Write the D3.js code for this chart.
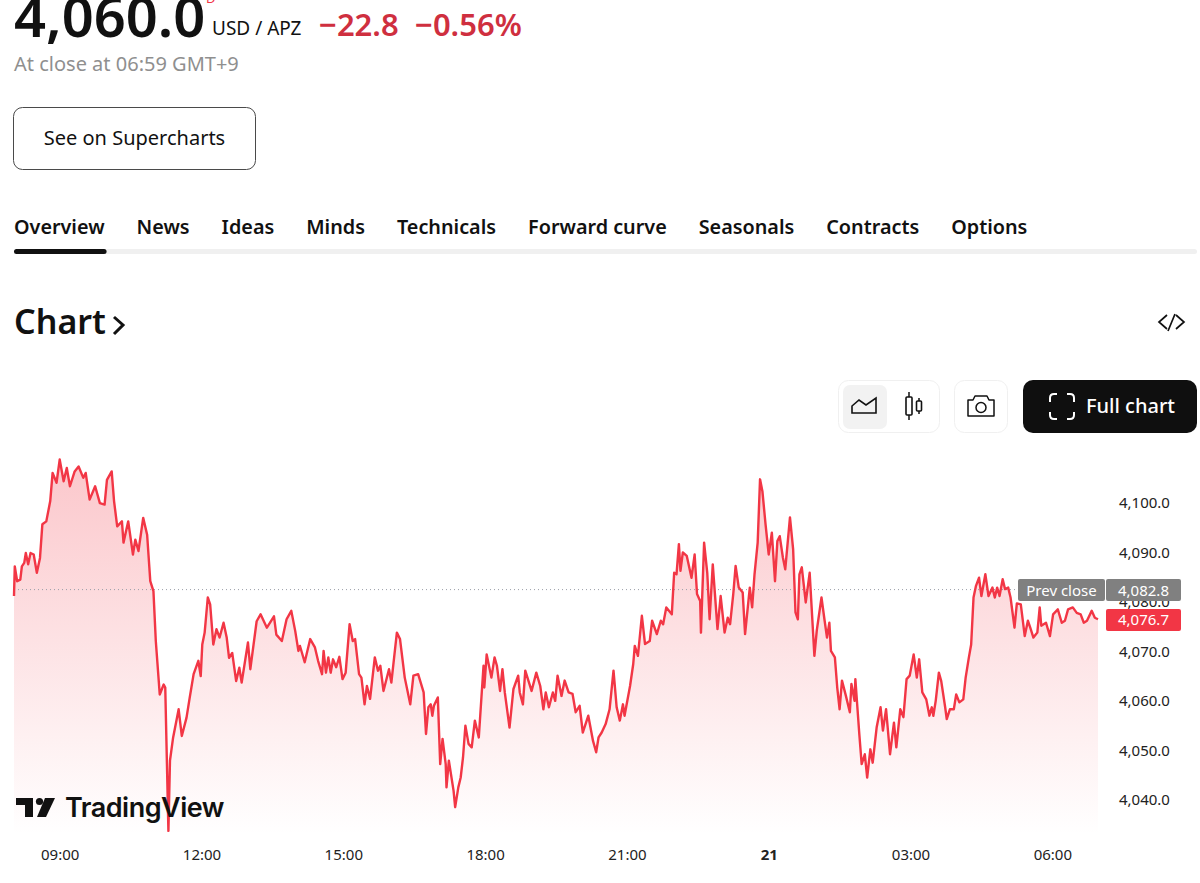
<!DOCTYPE html>
<html>
<head>
<meta charset="utf-8">
<script src="https://cdn.jsdelivr.net/npm/d3@7"></script>
<style>
  html, body { margin: 0; padding: 0; background: #fff; overflow: hidden; }
  svg { display: block; font-family: "Noto Sans", sans-serif; }
  .axis text { font-size: 15px; fill: #222; font-family: "Noto Sans", sans-serif; }
  .axis path, .axis line { display: none; }
</style>
</head>
<body>
<div id="chart"></div>
<script>
// Minutes since the session start (08:02) and the price read at each of them
const minutes = [
  0,1,4,8,10,13,15,18,21,25,29,33,36,41,46,49,54,58,63,67,71,77,82,88,91,96,103,109,115,118,
  124,127,131,137,139,145,151,154,158,164,169,173,177,180,185,190,192,196,198,202,209,213,219,223,228,234,237,239,242,246,
  249,253,257,261,266,270,273,277,282,286,289,297,300,308,313,321,330,333,340,346,352,357,361,
  363,369,376,382,386,391,393,396,399,402,405,409,413,417,421,426,430,433,438,441,445,448,452,458,462,465,469,476,479,486,
  490,496,503,507,513,520,523,526,529,531,533,538,541,544,548,549,552,558,560,564,567,570,573,577,581,585,590,596,597,600,
  606,610,613,617,620,623,629,634,640,642,646,649,657,663,668,672,675,679,684,687,690,695,699,704,709,713,718,722,729,735,
  739,742,746,751,756,761,765,769,773,775,782,786,788,792,
  797,801,807,810,816,821,824,828,835,838,841,844,846,849,854,860,864,867,871,872,876,880,883,887,893,897,902,906,909,913,
  916,920,925,928,934,937,940,944,947,950,954,958,962,966,969,972,976,979,985,989,992,995,997,1000,1005,1010,1016,1019,1025,1029,
  1032,1035,1037,1042,1045,1048,1051,1056,1061,1063,1067,1068,1073,1076,1080,1083,1087,1090,1095,1100,1103,1107,1112,1117,1120,1125,1129,1133,1137,1142,1146,1149,
  1153,1158,1162,1165,1167,1170,1174,1177,1182,1184,1188,1193,1196,1200,1205,1208,1212,1215,1218,1221,1225,1228,1233,1237,1242,1245,1248,1251,1255,1258,
  1262,1265,1270,1273,1278,1283,1287,1290,1294,1299,1302,1304,1310,1315,1319,1325,1330,1334,1338,1344,1349,1354,1358,1362,1368,1372,1376
];
const prices = [
  4081.4,4087.4,4084.4,4084.7,4087.4,4088.1,4090.1,4087.8,4090.1,4089.8,4086.1,4089.1,4095.9,4096.5,4100.6,4106.3,4104.3,4109.0,4104.6,4107.3,4103.6,4106.6,4107.6,4105.3,4106.3,4100.9,4103.6,4100.2,4099.9,4104.9,
  4106.6,4100.6,4095.5,4096.5,4092.2,4096.5,4089.8,4092.8,4090.5,4097.2,4093.8,4084.4,4082.4,4072.3,4061.5,4063.5,4062.9,4033.9,4048.1,4052.8,4058.5,4053.1,4056.8,4060.8,4065.6,4068.3,4065.2,4071.6,4074.0,4081.1,
  4079.7,4071.6,4074.7,4073.0,4076.0,4073.0,4068.9,4069.9,4064.2,4066.9,4063.9,4072.0,4066.6,4076.3,4077.7,4075.0,4077.3,4073.6,4072.3,4076.7,4078.4,4074.3,4070.3,
  4071.3,4068.0,4072.7,4071.0,4068.3,4065.6,4070.3,4065.9,4069.0,4065.9,4068.6,4067.0,4069.1,4064.6,4065.9,4075.7,4072.3,4072.7,4065.6,4064.9,4059.5,4063.2,4060.6,4069.0,4066.3,4067.3,4062.2,4066.6,4063.9,4074.0,
  4072.7,4064.9,4059.5,4065.3,4065.6,4061.9,4053.5,4058.9,4059.5,4057.2,4059.2,4060.9,4047.4,4052.5,4047.4,4042.7,4048.1,4042.0,4038.7,4042.7,4044.7,4048.8,4055.2,4051.5,4050.8,4056.2,4052.8,4067.3,4062.9,4069.6,
  4064.9,4069.0,4067.3,4062.2,4066.6,4061.9,4054.8,4062.6,4065.3,4061.9,4059.5,4066.3,4062.2,4065.9,4063.2,4058.5,4061.9,4058.9,4061.9,4060.2,4065.3,4061.2,4064.3,4061.9,4061.6,4057.9,4059.2,4053.8,4057.2,4052.1,
  4049.8,4052.8,4053.8,4055.5,4058.5,4066.3,4058.9,4056.2,4059.5,4057.2,4063.2,4067.6,4071.3,4069.3,
  4077.4,4071.7,4072.3,4076.4,4073.7,4076.4,4075.7,4079.1,4077.7,4086.1,4085.8,4091.9,4086.5,4090.2,4089.5,4085.1,4089.8,4081.8,4080.4,4074.0,4092.2,4086.1,4076.7,4087.8,4074.7,4081.4,4074.0,4077.0,4075.7,4081.8,
  4087.5,4083.1,4082.1,4073.7,4083.1,4079.1,4085.8,4092.2,4105.0,4102.6,4095.9,4089.8,4094.2,4084.4,4092.5,4093.5,4089.2,4086.8,4097.3,4090.9,4078.1,4076.7,4085.8,4087.2,4080.1,4086.1,4069.3,4074.4,4081.1,4076.4,
  4073.0,4076.0,4070.3,4069.0,4062.9,4058.5,4064.3,4061.2,4057.9,4063.6,4060.2,4064.6,4053.5,4047.4,4049.4,4044.7,4050.4,4047.7,4054.8,4058.9,4054.2,4058.5,4049.4,4055.8,4050.8,4058.5,4056.9,4064.6,4065.3,4069.6,4064.9,4068.6,
  4061.9,4060.5,4057.2,4058.9,4057.2,4060.2,4065.9,4064.2,4058.9,4056.5,4058.5,4058.5,4061.5,4059.9,4060.5,4064.9,4068.9,4071.6,4081.1,4083.4,4085.1,4081.4,4085.8,4081.4,4083.1,4081.1,4083.1,4081.4,4084.8,4082.8,
  4083.1,4081.1,4075.0,4079.9,4079.7,4073.3,4076.4,4075.0,4073.0,4074.0,4079.1,4075.4,4076.0,4073.3,4077.7,4078.7,4076.0,4076.4,4078.7,4079.1,4078.0,4077.7,4076.0,4076.4,4078.4,4077.0,4076.7
];

const valueTicks = [4100, 4090, 4080, 4070, 4060, 4050, 4040];
const timeTicks = [58, 238, 418, 598, 778, 958, 1138, 1318];
const timeLabels = ['09:00', '12:00', '15:00', '18:00', '21:00', '21', '03:00', '06:00'];
const tabs = ['Overview', 'News', 'Ideas', 'Minds', 'Technicals', 'Forward curve', 'Seasonals', 'Contracts', 'Options'];
const prevClose = 4082.8;
const lastPrice = 4076.7;

const width = 1200, height = 883;
const RED = '#f23645', INK = '#111';

const svg = d3.select('#chart').append('svg')
  .attr('width', width).attr('height', height).attr('viewBox', `0 0 ${width} ${height}`);

// Scale
const xScale = d3.scaleLinear().domain([0, 1376]).range([14, 1098]);
const yScale = d3.scaleLinear().domain([4030, 4110]).range([850.2, 454.6]);
const plotBottom = 835;

// --- header ---
function label(txt, x, y, size, weight, color, anchor) {
  return svg.append('text').attr('x', x).attr('y', y).attr('font-size', size)
    .attr('font-weight', weight || 400).attr('fill', color || INK)
    .attr('text-anchor', anchor || 'start').text(txt);
}

label('4,060.0', 14, 37, 56, 600);
label('D', 206, 3, 13, 400, RED);
label('USD / APZ', 212, 35, 19, 400);
label('\u221222.8', 319, 36, 31, 600, '#cf2f3f');
label('\u22120.56%', 415, 36, 31, 600, '#cf2f3f');
label('At close at 06:59 GMT+9', 14, 71, 20, 400, '#8f8f8f');

svg.append('rect').attr('x', 13.5).attr('y', 107.5).attr('width', 242).attr('height', 62).attr('rx', 9)
  .attr('fill', '#fff').attr('stroke', '#4a4a4a');
label('See on Supercharts', 134.5, 145, 20, 400, INK, 'middle');

// tabs laid out one after the other, 32px apart
let tabX = 14;
svg.append('rect').attr('x', 14).attr('y', 249).attr('width', 1183).attr('height', 5).attr('rx', 2.5).attr('fill', '#f0f0f0');
tabs.forEach((t, i) => {
  const node = label(t, tabX, 234, 19.8, 600);
  const w = node.node().getComputedTextLength();
  if (i === 0) {
    svg.append('rect').attr('x', tabX).attr('y', 249).attr('width', w + 2).attr('height', 5).attr('rx', 2.5).attr('fill', INK);
  }
  tabX += w + 32;
});

label('Chart', 14, 334, 34, 600);
svg.append('path').attr('d', 'M114,317 L123,325 L114,334').attr('fill', 'none').attr('stroke', INK).attr('stroke-width', 3);
svg.append('path').attr('d', 'M1167,315 L1159,322 L1167,329 M1175,314 L1168,331 M1176,315 L1184,322 L1176,329')
  .attr('fill', 'none').attr('stroke', INK).attr('stroke-width', 1.7);

// --- toolbar ---
svg.append('rect').attr('x', 838.5).attr('y', 380.5).attr('width', 101).attr('height', 52).attr('rx', 10)
  .attr('fill', '#fff').attr('stroke', '#f0f0f0');
svg.append('rect').attr('x', 843).attr('y', 385).attr('width', 44).attr('height', 44).attr('rx', 7).attr('fill', '#f2f2f2');
svg.append('path').attr('d', 'M852,413 V406 L859,400 L866,405 L876,398 V413 Z')
  .attr('fill', 'none').attr('stroke', INK).attr('stroke-width', 1.6);
svg.append('path').attr('d', 'M909,392 V420 M919,398 V414').attr('stroke', INK).attr('stroke-width', 1.5);
svg.append('rect').attr('x', 906).attr('y', 397).attr('width', 6).attr('height', 18).attr('rx', 1).attr('fill', '#fff').attr('stroke', INK).attr('stroke-width', 1.6);
svg.append('rect').attr('x', 916.5).attr('y', 401).attr('width', 5).attr('height', 10).attr('rx', 1).attr('fill', '#fff').attr('stroke', INK).attr('stroke-width', 1.6);

svg.append('rect').attr('x', 954.5).attr('y', 380.5).attr('width', 53).attr('height', 52).attr('rx', 10)
  .attr('fill', '#fff').attr('stroke', '#f0f0f0');
svg.append('path').attr('d', 'M968,400 H973 L975,396 H987 L989,400 H994 V416 H968 Z')
  .attr('fill', 'none').attr('stroke', INK).attr('stroke-width', 1.5).attr('stroke-linejoin', 'round');
svg.append('circle').attr('cx', 981).attr('cy', 407.5).attr('r', 5).attr('fill', 'none').attr('stroke', INK).attr('stroke-width', 1.5);

svg.append('rect').attr('x', 1023).attr('y', 380).attr('width', 174).attr('height', 53).attr('rx', 10).attr('fill', '#0f0f0f');
svg.append('path').attr('d', 'M1050,402 V398 Q1050,394 1054,394 H1057 M1067,394 H1070 Q1074,394 1074,398 V402 M1074,412 V415 Q1074,419 1070,419 H1067 M1057,419 H1054 Q1050,419 1050,415 V412')
  .attr('fill', 'none').attr('stroke', '#fff').attr('stroke-width', 2);
label('Full chart', 1086, 413, 20, 500, '#fff');

// --- chart ---
const points = minutes.map((m, i) => ({ m: m, p: prices[i] }));

const grad = svg.append('defs').append('linearGradient').attr('id', 'fade')
  .attr('gradientUnits', 'userSpaceOnUse').attr('x1', 0).attr('x2', 0)
  .attr('y1', yScale(d3.max(prices))).attr('y2', plotBottom);
grad.append('stop').attr('offset', 0).attr('stop-color', RED).attr('stop-opacity', 0.28);
grad.append('stop').attr('offset', 1).attr('stop-color', RED).attr('stop-opacity', 0);

const area = d3.area().x(d => xScale(d.m)).y0(plotBottom).y1(d => Math.min(yScale(d.p), plotBottom));
const line = d3.line().x(d => xScale(d.m)).y(d => yScale(d.p));

svg.append('path').datum(points).attr('d', area).attr('fill', 'url(#fade)');

// prev close dotted line
svg.append('line').attr('x1', 14).attr('x2', 1105)
  .attr('y1', yScale(prevClose) + 0.5).attr('y2', yScale(prevClose) + 0.5)
  .attr('stroke', '#9a9ea8').attr('stroke-width', 1).attr('stroke-dasharray', '1 3');

svg.append('path').datum(points).attr('d', line)
  .attr('fill', 'none').attr('stroke', RED).attr('stroke-width', 2.4).attr('stroke-linejoin', 'round');

// axes
svg.append('g').attr('class', 'axis').attr('transform', 'translate(1112,-1)')
  .call(d3.axisRight(yScale).tickValues(valueTicks).tickSize(0).tickPadding(7).tickFormat(d3.format(',.1f')));

const xAxisG = svg.append('g').attr('class', 'axis').attr('transform', 'translate(0,846)')
  .call(d3.axisBottom(xScale).tickValues(timeTicks).tickSize(0).tickPadding(3)
    .tickFormat((d, i) => timeLabels[i]));
xAxisG.selectAll('text').style('font-weight', (d, i) => timeLabels[i] === '21' ? 700 : 400);

// price tags
function tag(x, w, cy, color, txt) {
  svg.append('rect').attr('x', x).attr('y', cy - 11).attr('width', w).attr('height', 22).attr('rx', 2).attr('fill', color);
  svg.append('text').attr('x', x + w / 2).attr('y', cy + 5.5).attr('text-anchor', 'middle')
    .attr('font-size', 15).attr('fill', '#fff').text(txt);
}
const fmt = d3.format(',.1f');
tag(1018, 87, yScale(prevClose) + 0.9, '#808080', 'Prev close');
tag(1106, 75, yScale(prevClose) + 0.9, '#808080', fmt(prevClose));
tag(1106, 75, yScale(lastPrice) + 0.7, RED, fmt(lastPrice));

// TradingView logo
svg.append('path').attr('d', 'M16,798 H33 V817 H25 V805 H16 Z').attr('fill', INK);
svg.append('circle').attr('cx', 39.5).attr('cy', 801.5).attr('r', 3.6).attr('fill', INK);
svg.append('path').attr('d', 'M45,798 H55 L46,817 H37 Z').attr('fill', INK);
label('TradingView', 65, 817, 27, 600, INK).style('font-family', 'Inter, sans-serif').attr('letter-spacing', -0.5);
</script>
</body>
</html>
